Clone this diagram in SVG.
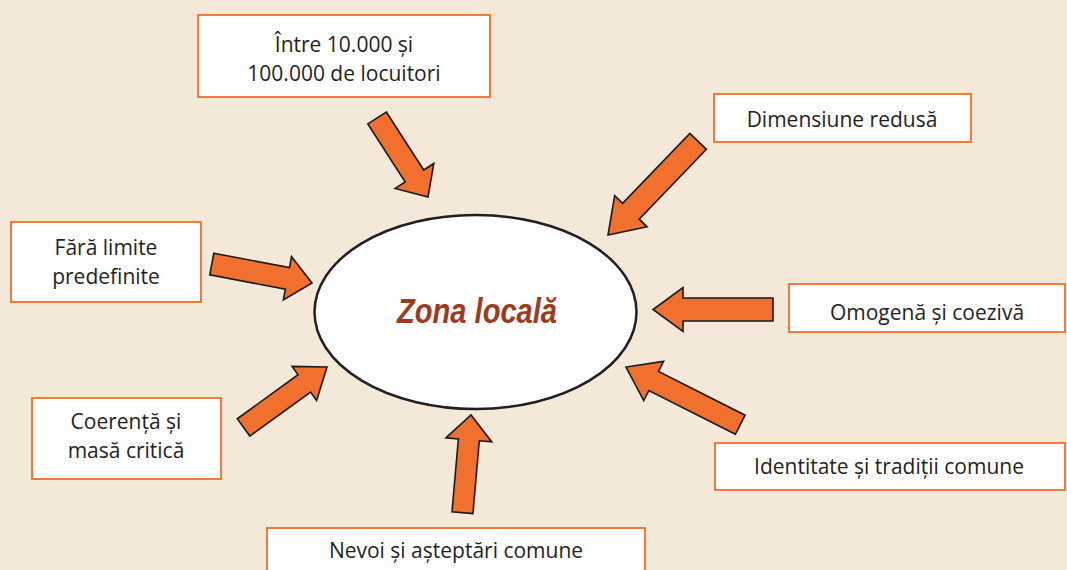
<svg xmlns="http://www.w3.org/2000/svg" width="1067" height="570" viewBox="0 0 1067 570">
<style>
.box{fill:#fff;stroke:#F37A3A;stroke-width:2}
.t{font-family:"Open Sans","Liberation Sans",sans-serif;font-size:21px;fill:#231F20;text-anchor:middle}
.arr{fill:#F1702E;stroke:#1a1a1a;stroke-width:1.6;stroke-linejoin:miter}
</style>
<rect width="1067" height="570" fill="#F4E8D8"/>
<g id="connectors">
<polygon class="arr" transform="translate(428,197) rotate(57.2)" points="-94,-11 -25,-11 -25,-23 0,0 -25,23 -25,11 -94,11"/>
<polygon class="arr" transform="translate(608,235) rotate(133.9)" points="-130,-11.5 -33,-11.5 -33,-22.5 0,0 -33,22.5 -33,11.5 -130,11.5"/>
<polygon class="arr" transform="translate(312,283) rotate(10.7)" points="-102,-11 -25,-11 -25,-22 0,0 -25,22 -25,11 -102,11"/>
<polygon class="arr" transform="translate(653,309.5) rotate(180)" points="-120,-11.5 -30,-11.5 -30,-22 0,0 -30,22 -30,11.5 -120,11.5"/>
<polygon class="arr" transform="translate(626,367) rotate(206.8)" points="-128,-10.7 -31,-10.7 -31,-22 0,0 -31,22 -31,10.7 -128,10.7"/>
<polygon class="arr" transform="translate(327,367) rotate(-35.9)" points="-103,-10.7 -28,-10.7 -28,-21 0,0 -28,21 -28,10.7 -103,10.7"/>
<polygon class="arr" transform="translate(471,415) rotate(-85)" points="-98,-10.5 -25,-10.5 -25,-23 0,0 -25,23 -25,10.5 -98,10.5"/>
</g>
<g id="center">
<ellipse cx="475.5" cy="312" rx="161" ry="97" fill="#fff" stroke="#231F20" stroke-width="2.5"/>
<text x="477" y="323" font-family="'Liberation Sans',Arial,sans-serif" font-size="35" font-weight="bold" font-style="italic" fill="#9E3A1F" text-anchor="middle" textLength="160" lengthAdjust="spacingAndGlyphs">Zona locală</text>
</g>
<g id="n1">
<rect class="box" x="198" y="15" width="292" height="82"/>
<text class="t" x="344" y="52">Între 10.000 și</text>
<text class="t" x="344" y="81">100.000 de locuitori</text>
</g>
<g id="n2">
<rect class="box" x="714" y="94" width="257" height="48"/>
<text class="t" x="842" y="127">Dimensiune redusă</text>
</g>
<g id="n3">
<rect class="box" x="11" y="222" width="190" height="80"/>
<text class="t" x="106" y="255">Fără limite</text>
<text class="t" x="106" y="284">predefinite</text>
</g>
<g id="n4">
<rect class="box" x="789" y="284" width="276" height="48"/>
<text class="t" x="927" y="320">Omogenă și coezivă</text>
</g>
<g id="n5">
<rect class="box" x="715" y="443" width="350" height="47"/>
<text class="t" x="889" y="474">Identitate și tradiții comune</text>
</g>
<g id="n6">
<rect class="box" x="32" y="398" width="189" height="81"/>
<text class="t" x="126" y="429">Coerență și</text>
<text class="t" x="126" y="458">masă critică</text>
</g>
<g id="n7">
<rect class="box" x="267" y="528" width="378" height="50"/>
<text class="t" x="456" y="558">Nevoi și așteptări comune</text>
</g>
</svg>
